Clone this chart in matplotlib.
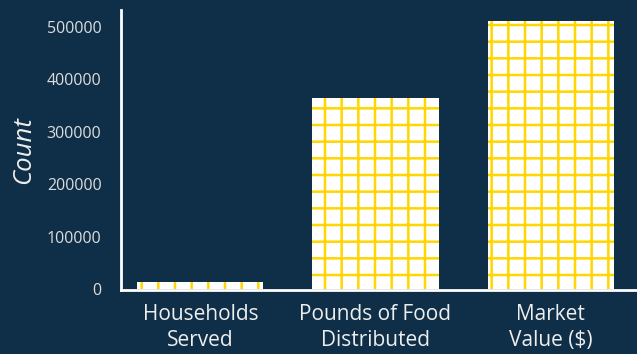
import matplotlib.pyplot as plt

categories = ["Households\nServed", "Pounds of Food\nDistributed", "Market\nValue ($)"]
counts = [13000, 365000, 511000]

bg = "#0f2f48"
plt.rcParams["font.family"] = ["Open Sans", "DejaVu Sans"]
plt.rcParams["hatch.linewidth"] = 1.8

fig = plt.figure(figsize=(6.37, 3.54), dpi=100, facecolor=bg)
ax = fig.add_axes([121 / 637, 64 / 354, 516 / 637, 280 / 354])
ax.set_facecolor(bg)

# white bars with a yellow grid hatch
ax.bar(range(len(categories)), counts, width=0.72, color="white",
       edgecolor="#ffd700", linewidth=0, hatch="+")

ax.set_xlim(-0.454, 2.494)
ax.set_ylim(-2000, 532000)
ax.set_xticks(range(len(categories)))
ax.set_xticklabels(categories, fontsize=15, color="#eeeeee", linespacing=1.3)
ax.set_yticks([0, 100000, 200000, 300000, 400000, 500000])
ax.set_yticklabels(["0", "100000", "200000", "300000", "400000", "500000"],
                   fontsize=11.5, color="#dddddd")
ax.tick_params(axis="x", length=0, pad=10)
ax.tick_params(axis="y", length=0, pad=14)
ax.set_ylabel("Count", fontsize=18.5, color="#eeeeee", style="italic", labelpad=8)

for s in ["top", "right"]:
    ax.spines[s].set_visible(False)
for s in ["left", "bottom"]:
    ax.spines[s].set_color("white")
    ax.spines[s].set_linewidth(2)

fig.savefig("out.png", dpi=100, facecolor=bg)
